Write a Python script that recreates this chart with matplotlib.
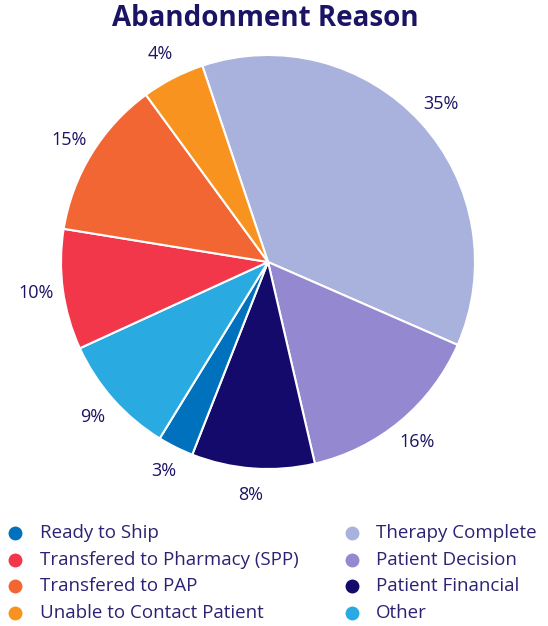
import matplotlib.pyplot as plt
from matplotlib.lines import Line2D

# slices in clockwise order starting from the top
reasons = ['Therapy Complete', 'Patient Decision', 'Patient Financial', 'Ready to Ship',
           'Other', 'Transfered to Pharmacy (SPP)', 'Transfered to PAP', 'Unable to Contact Patient']
# wedge sizes as drawn (angles) and the printed labels
shares = [36.7, 14.8, 9.6, 2.8, 9.4, 9.4, 12.4, 4.9]
pct_labels = ['35%', '16%', '8%', '3%', '9%', '10%', '15%', '4%']
colors = ['#a9b1dd', '#9488d0', '#140a6b', '#0071bc', '#29abe2', '#f2374a', '#f26633', '#f7931e']

legend_order = ['Ready to Ship', 'Transfered to Pharmacy (SPP)', 'Transfered to PAP',
                'Unable to Contact Patient', 'Therapy Complete', 'Patient Decision',
                'Patient Financial', 'Other']

navy = '#1b1464'
plt.rcParams['font.family'] = ['Open Sans', 'DejaVu Sans']

W, H = 548, 626
fig = plt.figure(figsize=(W / 100, H / 100), dpi=100)

cx, cy, r = 268, 262, 207
ax = fig.add_axes([(cx - r) / W, (H - cy - r) / H, 2 * r / W, 2 * r / H])
wedges, texts = ax.pie(shares, colors=colors, startangle=108.5, counterclock=False,
                       labels=pct_labels, labeldistance=1.13,
                       wedgeprops=dict(edgecolor='white', linewidth=1.5),
                       textprops=dict(color=navy, fontsize=13))
ax.set_xlim(-1, 1)
ax.set_ylim(-1, 1)
ax.set_aspect('equal')
ax.axis('off')
for t in texts:
    t.set_ha('center')
    t.set_va('center')

fig.text(0.484, 1 - 18 / H, 'Abandonment Reason', ha='center', va='center',
         fontsize=20, fontweight='bold', color=navy)

# legend drawn by hand, two columns of four
for i, name in enumerate(legend_order):
    col, row = divmod(i, 4)
    mx = [15, 352][col] / W
    tx = [40, 376][col] / W
    y = 1 - (533 + row * 26.7) / H
    fig.add_artist(Line2D([mx], [y], transform=fig.transFigure, marker='o', linestyle='',
                          markersize=10, markerfacecolor=colors[reasons.index(name)],
                          markeredgecolor='none'))
    fig.text(tx, y, name, ha='left', va='center', fontsize=13.5, color='#2b2272')

fig.savefig('out.png', dpi=100)
